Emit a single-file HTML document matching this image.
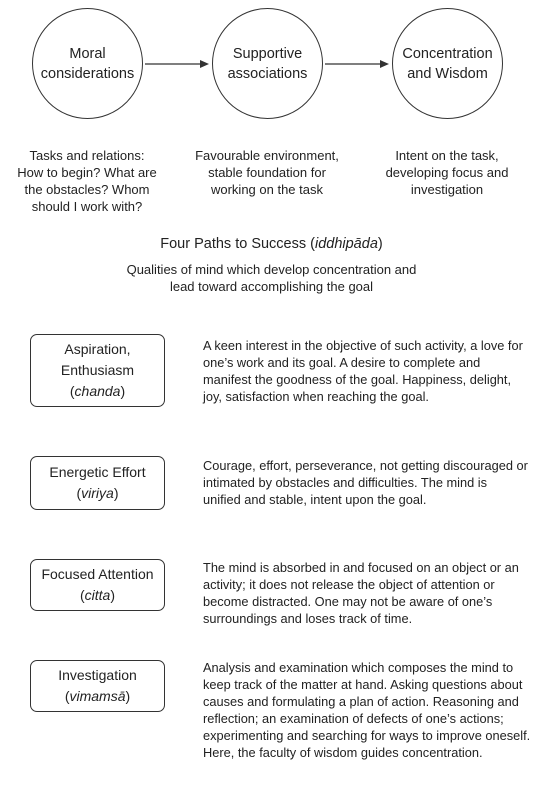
<!DOCTYPE html>
<html><head><meta charset="utf-8"><style>
*{margin:0;padding:0;box-sizing:border-box}
body{width:543px;height:810px;background:#fff;position:relative;font-family:"Liberation Sans","DejaVu Sans",sans-serif;color:#222;overflow:hidden}
.c{position:absolute;text-align:center;font-size:13px;line-height:17px}
.circ{position:absolute;width:111px;height:111px;border:1.2px solid #333;border-radius:50%;display:flex;align-items:center;justify-content:center;text-align:center;font-size:14.5px;line-height:20px}
.box{position:absolute;left:30px;width:135px;border:1.2px solid #333;border-radius:7px;display:flex;align-items:center;justify-content:center;text-align:center;font-size:14px;line-height:21px}
.p{position:absolute;left:203px;width:340px;font-size:12.8px;line-height:17px;white-space:nowrap}
</style></head><body>
<div class="circ" style="left:32px;top:8px"><div>Moral<br>considerations</div></div>
<div class="circ" style="left:212px;top:8px"><div>Supportive<br>associations</div></div>
<div class="circ" style="left:392px;top:8px"><div>Concentration<br>and Wisdom</div></div>
<svg style="position:absolute;left:0;top:0" width="543" height="130">
<line x1="145" y1="64" x2="204" y2="64" stroke="#333" stroke-width="1.2"/><polygon points="209,64 200,60 200,68" fill="#333"/>
<line x1="325" y1="64" x2="384" y2="64" stroke="#333" stroke-width="1.2"/><polygon points="389,64 380,60 380,68" fill="#333"/>
</svg>
<div class="c" style="left:7px;width:160px;top:147px">Tasks and relations:<br>How to begin? What are<br>the obstacles? Whom<br>should I work with?</div>
<div class="c" style="left:187px;width:160px;top:147px">Favourable environment,<br>stable foundation for<br>working on the task</div>
<div class="c" style="left:367px;width:160px;top:147px">Intent on the task,<br>developing focus and<br>investigation</div>
<div class="c" style="left:0;width:543px;top:234px;font-size:14.5px;line-height:20px">Four Paths to Success (<i>iddhipāda</i>)</div>
<div class="c" style="left:0;width:543px;top:261px">Qualities of mind which develop concentration and<br>lead toward accomplishing the goal</div>
<div class="box" style="top:334px;height:73px"><div>Aspiration,<br>Enthusiasm<br>(<i>chanda</i>)</div></div>
<div class="box" style="top:456px;height:54px"><div>Energetic Effort<br>(<i>viriya</i>)</div></div>
<div class="box" style="top:559px;height:52px"><div>Focused Attention<br>(<i>citta</i>)</div></div>
<div class="box" style="top:660px;height:52px"><div>Investigation<br>(<i>vimamsā</i>)</div></div>
<div class="p" style="top:337px">A keen interest in the objective of such activity, a love for<br>one’s work and its goal. A desire to complete and<br>manifest the goodness of the goal. Happiness, delight,<br>joy, satisfaction when reaching the goal.</div>
<div class="p" style="top:457px">Courage, effort, perseverance, not getting discouraged or<br>intimated by obstacles and difficulties. The mind is<br>unified and stable, intent upon the goal.</div>
<div class="p" style="top:559px">The mind is absorbed in and focused on an object or an<br>activity; it does not release the object of attention or<br>become distracted. One may not be aware of one’s<br>surroundings and loses track of time.</div>
<div class="p" style="top:659px">Analysis and examination which composes the mind to<br>keep track of the matter at hand. Asking questions about<br>causes and formulating a plan of action. Reasoning and<br>reflection; an examination of defects of one’s actions;<br>experimenting and searching for ways to improve oneself.<br>Here, the faculty of wisdom guides concentration.</div>
</body></html>
